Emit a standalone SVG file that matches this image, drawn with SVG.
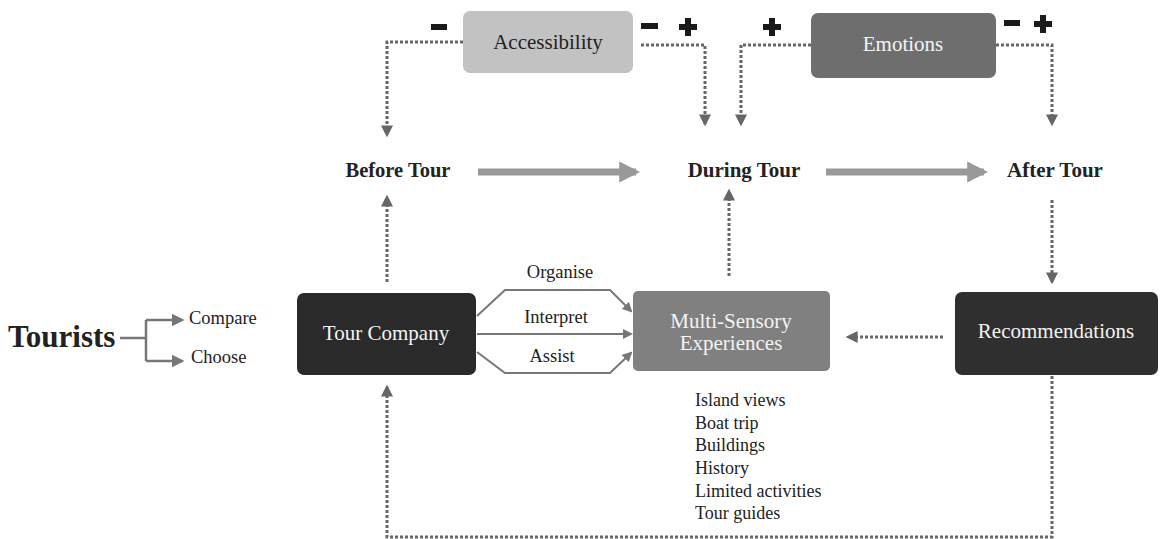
<svg xmlns="http://www.w3.org/2000/svg" width="1160" height="539" viewBox="0 0 1160 539">
<style>
.t{font-family:"Liberation Serif",serif;fill:#222}
.b{font-weight:bold}
.w{fill:#f4f4f4}
.dot{fill:none;stroke:#666;stroke-width:3;stroke-dasharray:3 2}
.sol{fill:none;stroke:#777;stroke-width:2}
.big{fill:none;stroke:#999;stroke-width:7}
.sign{fill:#1a1a1a}
</style>
<defs>
<marker id="ad" viewBox="0 0 10 10" refX="8" refY="5" markerWidth="4" markerHeight="4" orient="auto"><path d="M0,0L10,5L0,10z" fill="#666"/></marker>
<marker id="as" viewBox="0 0 10 10" refX="8" refY="5" markerWidth="5" markerHeight="5" orient="auto"><path d="M0,0L10,5L0,10z" fill="#777"/></marker>
<marker id="ab" viewBox="0 0 10 10" refX="8" refY="5" markerWidth="3" markerHeight="3.4" orient="auto"><path d="M0,0L10,5L0,10z" fill="#999"/></marker>
</defs>
<rect width="1160" height="539" fill="#fff"/>
<g id="connectors">
<path class="dot" d="M463,42H387V135" marker-end="url(#ad)"/>
<path class="dot" d="M641,45H705V124" marker-end="url(#ad)"/>
<path class="dot" d="M811,45H741V124" marker-end="url(#ad)"/>
<path class="dot" d="M996,45H1052V124" marker-end="url(#ad)"/>
<path class="big" d="M478,172H636" marker-end="url(#ab)"/>
<path class="big" d="M826,172H984" marker-end="url(#ab)"/>
<path class="dot" d="M387,282V197" marker-end="url(#ad)"/>
<path class="dot" d="M729,276V191" marker-end="url(#ad)"/>
<path class="dot" d="M1052,200V282" marker-end="url(#ad)"/>
<path class="dot" d="M943,337H848" marker-end="url(#ad)"/>
<path class="dot" d="M1052,376V537H387V387" marker-end="url(#ad)"/>
<path class="sol" d="M477,316L505,290H610L631,311" marker-end="url(#as)"/>
<path class="sol" d="M477,334H631" marker-end="url(#as)"/>
<path class="sol" d="M477,352L505,373H610L631,353" marker-end="url(#as)"/>
<path class="sol" d="M120,338H146M146,320V361" style="stroke-width:2.5"/>
<path class="sol" d="M146,320H182" marker-end="url(#as)" style="stroke-width:2.5"/>
<path class="sol" d="M146,361H182" marker-end="url(#as)" style="stroke-width:2.5"/>
</g>
<g id="signs">
<rect class="sign" x="431" y="24" width="16" height="6"/>
<rect class="sign" x="641" y="23" width="17" height="6"/>
<path class="sign" d="M685,18h6v6h6v6h-6v6h-6v-6h-6v-6h6z"/>
<path class="sign" d="M769,18h6v6h6v6h-6v6h-6v-6h-6v-6h6z"/>
<rect class="sign" x="1004" y="20" width="16" height="6"/>
<path class="sign" d="M1040,15h6v6h6v6h-6v6h-6v-6h-6v-6h6z"/>
</g>
<g id="accessibility">
<rect x="463" y="11" width="170" height="62" rx="7" fill="#c2c2c2"/>
<text class="t" x="548" y="49" font-size="21" text-anchor="middle">Accessibility</text>
</g>
<g id="emotions">
<rect x="811" y="13" width="185" height="65" rx="7" fill="#6e6e6e"/>
<text class="t w" x="903" y="51" font-size="21" text-anchor="middle">Emotions</text>
</g>
<g id="before-tour"><text class="t b" x="398" y="177" font-size="20.5" text-anchor="middle">Before Tour</text></g>
<g id="during-tour"><text class="t b" x="744" y="177" font-size="21" text-anchor="middle">During Tour</text></g>
<g id="after-tour"><text class="t b" x="1055" y="177" font-size="21" text-anchor="middle">After Tour</text></g>
<g id="tourists">
<text class="t b" x="8" y="347" font-size="31">Tourists</text>
<text class="t" x="189" y="324" font-size="18.5">Compare</text>
<text class="t" x="191" y="363" font-size="18.5">Choose</text>
</g>
<g id="tour-company">
<rect x="297" y="293" width="179" height="82" rx="7" fill="#2a2a2a"/>
<text class="t w" x="386" y="340" font-size="21" text-anchor="middle">Tour Company</text>
</g>
<g id="labels">
<text class="t" x="560" y="278" font-size="18.5" text-anchor="middle">Organise</text>
<text class="t" x="556" y="323" font-size="18.5" text-anchor="middle">Interpret</text>
<text class="t" x="552" y="362" font-size="18.5" text-anchor="middle">Assist</text>
</g>
<g id="multi-sensory">
<rect x="633" y="291" width="197" height="80" rx="5" fill="#808080"/>
<text class="t w" x="731" y="328" font-size="21" text-anchor="middle">Multi-Sensory</text>
<text class="t w" x="731" y="350" font-size="21" text-anchor="middle">Experiences</text>
</g>
<g id="recommendations">
<rect x="955" y="292" width="203" height="83" rx="7" fill="#2f2f2f"/>
<text class="t w" x="1056" y="338" font-size="21" text-anchor="middle">Recommendations</text>
</g>
<g id="list">
<text class="t" x="695" y="406" font-size="18" >Island views</text>
<text class="t" x="695" y="429" font-size="18">Boat trip</text>
<text class="t" x="695" y="451" font-size="18">Buildings</text>
<text class="t" x="695" y="474" font-size="18">History</text>
<text class="t" x="695" y="497" font-size="18">Limited activities</text>
<text class="t" x="695" y="519" font-size="18">Tour guides</text>
</g>
</svg>
